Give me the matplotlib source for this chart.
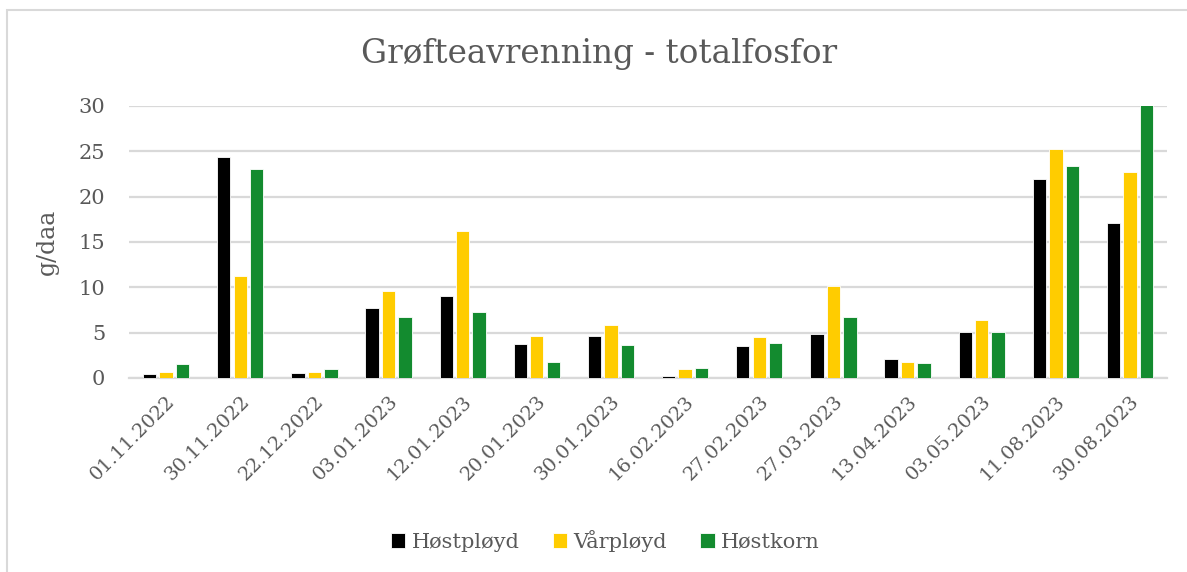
import numpy as np
import matplotlib.pyplot as plt
from matplotlib.patches import Rectangle

datoer = ["01.11.2022", "30.11.2022", "22.12.2022", "03.01.2023", "12.01.2023",
          "20.01.2023", "30.01.2023", "16.02.2023", "27.02.2023", "27.03.2023",
          "13.04.2023", "03.05.2023", "11.08.2023", "30.08.2023"]
hostployd = [0.4, 24.4, 0.5, 7.7, 9.0, 3.8, 4.6, 0.25, 3.5, 4.8, 2.1, 5.1, 21.9, 17.1]
varployd = [0.7, 11.3, 0.7, 9.6, 16.2, 4.6, 5.8, 0.95, 4.5, 10.1, 1.8, 6.35, 25.3, 22.7]
hostkorn = [1.5, 23.1, 0.95, 6.7, 7.3, 1.8, 3.6, 1.1, 3.9, 6.7, 1.65, 5.1, 23.4, 30.1]

serier = ["Høstpløyd", "Vårpløyd", "Høstkorn"]
farger = ["#000000", "#FFCC00", "#138B2F"]
tekst = "#595959"
grid = "#D9D9D9"

plt.rcParams['font.family'] = ['DejaVu Serif']

fig = plt.figure(figsize=(11.87, 5.72), dpi=100)
ax = fig.add_axes([0.1087, 0.3392, 0.8745, 0.4755])

x = np.arange(len(datoer))
w = 0.18
step = 0.222
for i, (verdier, navn, farge) in enumerate(zip([hostployd, varployd, hostkorn], serier, farger)):
    ax.bar(x + (i - 1) * step, verdier, width=w, color=farge, label=navn,
           edgecolor="white", linewidth=0.6, zorder=3)

ax.set_xlim(-0.5, len(datoer) - 0.5)
ax.set_ylim(0, 30)
ax.set_yticks(range(0, 31, 5))
ax.yaxis.grid(True, color=grid, linewidth=1.6, zorder=0)
for s in ["top", "right", "left"]:
    ax.spines[s].set_visible(False)
ax.spines["bottom"].set_color(grid)
ax.spines["bottom"].set_linewidth(1.6)
ax.tick_params(length=0, colors=tekst)
ax.tick_params(axis="y", pad=17, labelsize=15)
ax.set_xticks(x)
ax.set_xticklabels(datoer, rotation=45, ha="right", rotation_mode="anchor", fontsize=14)
ax.tick_params(axis="x", pad=10)
ax.set_ylabel("g/daa", color=tekst, fontsize=17, labelpad=14)

fig.text(0.505, 0.905, "Grøfteavrenning - totalfosfor", ha="center", va="center",
         color=tekst, fontsize=23.5)

fig.legend(loc="center", bbox_to_anchor=(0.51, 0.055), ncol=3, frameon=False,
           fontsize=15, labelcolor=tekst, handlelength=0.7, handleheight=0.7,
           handletextpad=0.3, columnspacing=1.6)

fig.patches.append(Rectangle((7 / 1187, -0.1), 1.2, 1 - 10 / 572 + 0.1,
                             transform=fig.transFigure, fill=False,
                             edgecolor=grid, linewidth=1.5))

fig.savefig("out.png", dpi=100)
